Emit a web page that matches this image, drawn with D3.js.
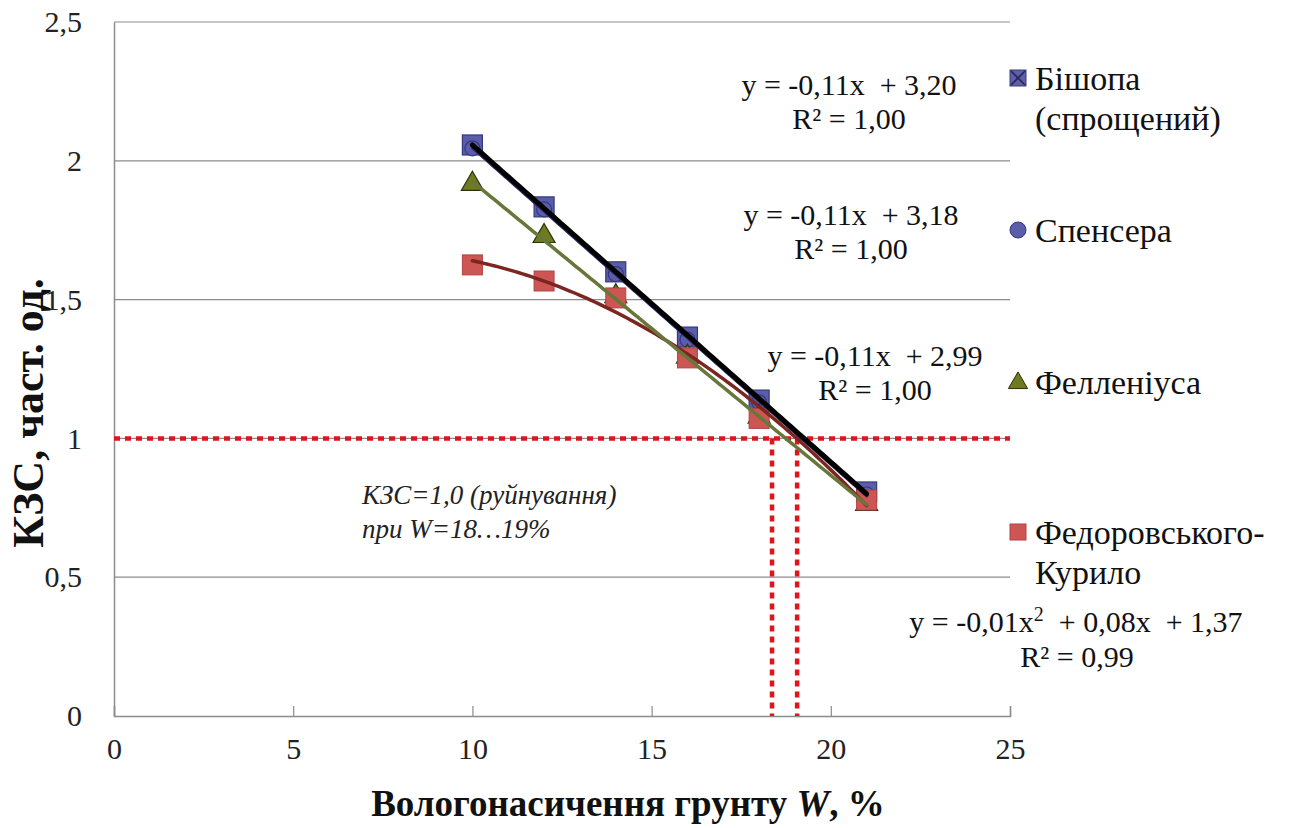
<!DOCTYPE html>
<html>
<head>
<meta charset="utf-8">
<script src="https://cdn.jsdelivr.net/npm/d3@7"></script>
<style>
  html, body { margin: 0; padding: 0; background: #fff; }
  svg { display: block; }
  svg text { font-family: "Liberation Serif", "Tinos", "DejaVu Serif", "Noto Serif", serif; }
</style>
</head>
<body>
<svg id="chart" width="1289" height="828"></svg>
<script>
// Soil saturation W, %
const moisture = [10, 12, 14, 16, 18, 21];

// Safety factor (КЗС) by calculation method
const bishop     = [2.057, 1.834, 1.600, 1.365, 1.138, 0.807];
const spencer    = [2.045, 1.825, 1.592, 1.356, 1.130, 0.798];
const fellenius  = [1.913, 1.725, 1.508, 1.290, 1.074, 0.760];
const fedorovsky = [1.625, 1.567, 1.506, 1.290, 1.072, 0.778];

const xTicks = [0, 5, 10, 15, 20, 25];
const yTicks = [0, 0.5, 1, 1.5, 2, 2.5];

// Failure threshold and the moisture range where it is reached
const failureLevel = 1.0;
const failureW = [18.36, 19.06];

const NB = "\u00a0";
const equations = [
  { line1: `y = -0,11x${NB}${NB}+ 3,20`, line2: "R² = 1,00", cx: 849, y: 95 },
  { line1: `y = -0,11x${NB}${NB}+ 3,18`, line2: "R² = 1,00", cx: 851, y: 225 },
  { line1: `y = -0,11x${NB}${NB}+ 2,99`, line2: "R² = 1,00", cx: 875, y: 366 },
];

const svg = d3.select("#chart");
const margin = { left: 114, right: 279, top: 22, bottom: 112 };
const W = 1289, H = 828;

const x = d3.scaleLinear().domain([0, 25]).range([margin.left, W - margin.right]);
const y = d3.scaleLinear().domain([0, 2.5]).range([H - margin.bottom, margin.top]);

const grey = "#8c8c8c";

// Horizontal gridlines
svg.append("g").selectAll("line").data(yTicks.filter(d => d > 0)).join("line")
  .attr("x1", x(0)).attr("x2", x(25))
  .attr("y1", d => y(d)).attr("y2", d => y(d))
  .attr("stroke", grey).attr("stroke-width", 1.2);

// Axes
const xAxis = svg.append("g").attr("transform", `translate(0,${y(0)})`)
  .call(d3.axisBottom(x).tickValues(xTicks).tickSize(-10).tickPadding(24).tickFormat(d => d));
const yAxis = svg.append("g").attr("transform", `translate(${x(0)},0)`)
  .call(d3.axisLeft(y).tickValues(yTicks).tickSize(0).tickPadding(32)
    .tickFormat(d => String(d).replace(".", ",")));
[xAxis, yAxis].forEach(g => {
  g.select(".domain").attr("stroke", grey).attr("stroke-width", 1.5);
  g.selectAll(".tick line").attr("stroke", grey).attr("stroke-width", 1.2);
  g.selectAll("text").attr("font-size", 30).attr("fill", "#222");
});
xAxis.selectAll("text").attr("dy", "0.62em");

// Axis titles
svg.append("text")
  .attr("transform", `translate(43,${(y(0) + y(2.5)) / 2 + 44}) rotate(-90)`)
  .attr("text-anchor", "middle").attr("font-size", 44).attr("font-weight", "bold").attr("fill", "#111")
  .text("КЗС, част. од.");
const xt = svg.append("text")
  .attr("x", 628).attr("y", 816)
  .attr("text-anchor", "middle").attr("font-size", 37).attr("font-weight", "bold").attr("fill", "#111");
xt.append("tspan").text("Вологонасичення грунту ");
xt.append("tspan").attr("font-style", "italic").text("W");
xt.append("tspan").text(", %");

// Trend fits
function linearFit(xs, ys) {
  const mx = d3.mean(xs), my = d3.mean(ys);
  const b = d3.sum(xs, (v, i) => (v - mx) * (ys[i] - my)) / d3.sum(xs, v => (v - mx) ** 2);
  return t => my + b * (t - mx);
}
function quadFit(xs, ys) {
  // normal equations for y = a + b x + c x^2, solved by Cramer's rule
  const s = k => d3.sum(xs, v => v ** k);
  const t = k => d3.sum(xs, (v, i) => v ** k * ys[i]);
  const A = [[s(0), s(1), s(2)], [s(1), s(2), s(3)], [s(2), s(3), s(4)]];
  const B = [t(0), t(1), t(2)];
  const det = m => m[0][0]*(m[1][1]*m[2][2]-m[1][2]*m[2][1]) - m[0][1]*(m[1][0]*m[2][2]-m[1][2]*m[2][0]) + m[0][2]*(m[1][0]*m[2][1]-m[1][1]*m[2][0]);
  const D = det(A);
  const coef = [0, 1, 2].map(j => det(A.map((row, i) => row.map((v, k) => k === j ? B[i] : v))) / D);
  return u => coef[0] + coef[1] * u + coef[2] * u * u;
}

const span = d3.range(10, 21.001, 0.1);
const line = d3.line().x(d => x(d[0])).y(d => y(d[1]));
const fits = [
  { f: linearFit(moisture, spencer), color: "#2b2f6b", w: 3 },
  { f: quadFit(moisture, fedorovsky), color: "#7b2621", w: 3.5 },
  { f: linearFit(moisture, fellenius), color: "#67773a", w: 3.5 },
  { f: linearFit(moisture, bishop), color: "#000000", w: 5 },
];

// Failure threshold lines
const red = "#e0141b";
svg.append("line")
  .attr("x1", x(0)).attr("x2", x(25)).attr("y1", y(failureLevel)).attr("y2", y(failureLevel))
  .attr("stroke", red).attr("stroke-width", 4.5).attr("stroke-dasharray", "6,5");
svg.append("g").selectAll("line").data(failureW).join("line")
  .attr("x1", d => x(d)).attr("x2", d => x(d)).attr("y1", y(failureLevel)).attr("y2", y(0))
  .attr("stroke", red).attr("stroke-width", 4.5).attr("stroke-dasharray", "6,5");

// Markers
const blueFill = "#5a5da8", blueStroke = "#34387e";
const redFill = "#cd5553", redStroke = "#b24444";
const oliveFill = "#6f7b1e", oliveStroke = "#2c300c";

const pts = (vals) => moisture.map((m, i) => [m, vals[i]]);

svg.append("g").selectAll("rect").data(pts(bishop)).join("rect")
  .attr("x", d => x(d[0]) - 10).attr("y", d => y(d[1]) - 10).attr("width", 20).attr("height", 20)
  .attr("fill", blueFill).attr("stroke", blueStroke).attr("stroke-width", 1.2);
svg.append("g").selectAll("circle").data(pts(spencer)).join("circle")
  .attr("cx", d => x(d[0])).attr("cy", d => y(d[1])).attr("r", 7.5)
  .attr("fill", blueFill).attr("stroke", blueStroke).attr("stroke-width", 1.2);

const tri = d3.symbol().type(d3.symbolTriangle).size(210);
svg.append("g").selectAll("path").data(pts(fellenius)).join("path")
  .attr("d", tri).attr("transform", d => `translate(${x(d[0])},${y(d[1]) - 1})`)
  .attr("fill", oliveFill).attr("stroke", oliveStroke).attr("stroke-width", 1.2);

svg.append("g").selectAll("rect").data(pts(fedorovsky)).join("rect")
  .attr("x", d => x(d[0]) - 10).attr("y", d => y(d[1]) - 10).attr("width", 20).attr("height", 20)
  .attr("fill", redFill).attr("stroke", redStroke).attr("stroke-width", 1);

// Trend lines drawn over the markers
fits.forEach(s => {
  svg.append("path").datum(span.map(t => [t, s.f(t)]))
    .attr("d", line).attr("fill", "none").attr("stroke", s.color).attr("stroke-width", s.w)
    .attr("stroke-linecap", "round");
});

// Fitted equations
const eqFont = 30;
equations.forEach(e => {
  const t = svg.append("text").attr("text-anchor", "middle").attr("font-size", eqFont).attr("fill", "#111");
  t.append("tspan").attr("x", e.cx).attr("y", e.y).text(e.line1);
  t.append("tspan").attr("x", e.cx).attr("y", e.y + 34).text(e.line2);
});
{
  const t = svg.append("text").attr("text-anchor", "middle").attr("font-size", eqFont).attr("fill", "#111");
  const t1 = t.append("tspan").attr("x", 1076).attr("y", 632);
  t1.append("tspan").text("y = -0,01x");
  t1.append("tspan").attr("font-size", 20).attr("dy", -11).text("2");
  t1.append("tspan").attr("dy", 11).text(`${NB}${NB}+ 0,08x${NB}${NB}+ 1,37`);
  t.append("tspan").attr("x", 1077).attr("y", 667).text("R² = 0,99");
}

// Failure annotation
const ann = svg.append("text").attr("font-size", 27).attr("font-style", "italic").attr("fill", "#222");
ann.append("tspan").attr("x", 362).attr("y", 504).text("КЗС=1,0 (руйнування)");
ann.append("tspan").attr("x", 362).attr("y", 538).text("при W=18…19%");

// Legend
const lg = svg.append("g");
const lx = 1018;
const legendRows = [
  { lines: ["Бішопа", "(спрощений)"], y: 78, kind: "xsq" },
  { lines: ["Спенсера"], y: 230, kind: "circle" },
  { lines: ["Фелленіуса"], y: 382, kind: "tri" },
  { lines: ["Федоровського-", "Курило"], y: 532, kind: "sq" },
];
legendRows.forEach(r => {
  const g = lg.append("g").attr("transform", `translate(${lx},${r.y})`);
  if (r.kind === "xsq") {
    g.append("rect").attr("x", -8).attr("y", -8).attr("width", 16).attr("height", 16)
      .attr("fill", "#5f61a6").attr("stroke", "#3a3d80");
    g.append("path").attr("d", "M-7,-7L7,7M7,-7L-7,7").attr("stroke", "#24265e").attr("stroke-width", 1.6);
  } else if (r.kind === "circle") {
    g.append("circle").attr("r", 8).attr("fill", blueFill).attr("stroke", blueStroke);
  } else if (r.kind === "tri") {
    g.append("path").attr("d", d3.symbol().type(d3.symbolTriangle).size(160)).attr("transform", "translate(0,1)")
      .attr("fill", oliveFill).attr("stroke", oliveStroke);
  } else {
    g.append("rect").attr("x", -8).attr("y", -8).attr("width", 16).attr("height", 16)
      .attr("fill", redFill).attr("stroke", redStroke);
  }
  const t = g.append("text").attr("font-size", 34).attr("fill", "#111");
  r.lines.forEach((s, i) => t.append("tspan").attr("x", 17).attr("y", 12 + i * 40).text(s));
});
</script>
</body>
</html>
